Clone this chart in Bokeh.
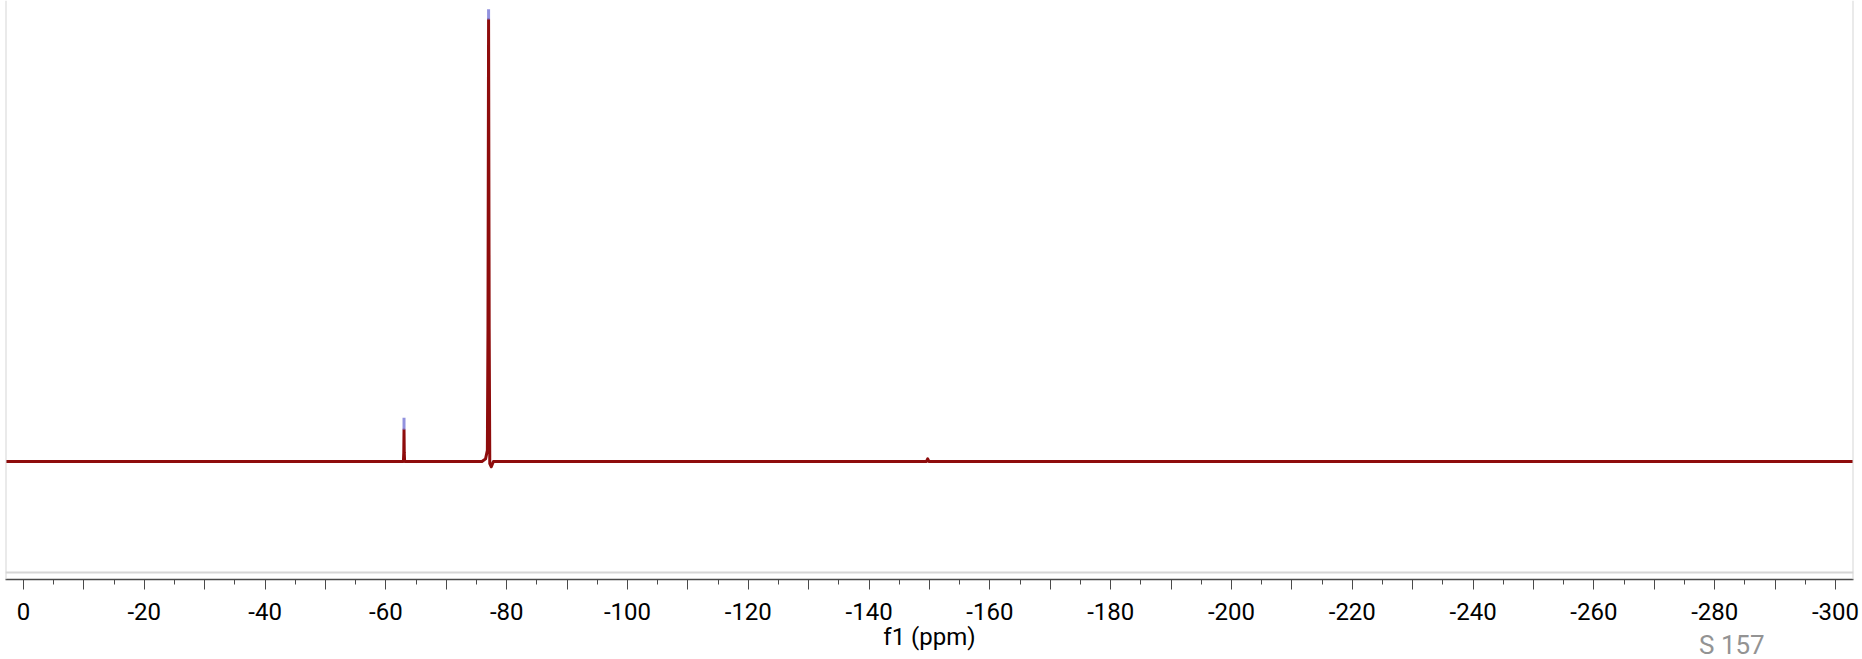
from bokeh.plotting import figure
from bokeh.models import Range1d, FixedTicker, Span, Div
from bokeh.layouts import column
from bokeh.embed import file_html
from bokeh.resources import INLINE

# ---- data ----
# 19F spectrum trace: chemical shift (ppm) and relative intensity
ppm = [2.9, -62.9, -62.96, -63.0, -63.04, -63.1,
       -75.9, -76.5, -76.8, -76.9, -77.0, -77.1, -77.2, -77.45, -77.8,
       -149.5, -149.7, -149.9, -302.9]
intensity = [0, 0, 2.0, 7.2, 2.0, 0,
             0, 0.6, 2.5, 30, 100, 30, -0.5, -1.2, 0,
             0, 0.6, 0, 0]

# peak-pick markers (blue tips)
peak_ppm = [-63.0, -77.0]
peak_bottom = [7.2, 100.0]
peak_top = [9.9, 102.3]

# axis ticks
major_ticks = list(range(0, -301, -10))
minor_ticks = list(range(-5, -301, -10))
tick_labels = {t: (str(t) if t % 20 == 0 else "") for t in major_ticks}

x_label = "f1 (ppm)"
corner_text = "S 157"

FONT = "Roboto"
X0, X1 = 2.98, -302.98
Y0, Y1 = -26.7, 104.3

p = figure(width=1862, height=659, output_backend="svg", toolbar_location=None,
           x_range=Range1d(X0, X1), y_range=Range1d(Y0, Y1),
           min_border_left=5, min_border_right=9, min_border_top=0, min_border_bottom=80,
           background_fill_color="white", border_fill_color="white")
p.outline_line_color = None
p.grid.visible = False
p.yaxis.visible = False

# frame borders (light grey) left / right / bottom
for loc in (X0, X1):
    p.add_layout(Span(location=loc, dimension="height", line_color="#d6d6d6", line_width=2))
p.add_layout(Span(location=-25.1, dimension="width", line_color="#d6d6d6", line_width=2))

# spectrum
p.line(ppm, intensity, line_color="#8e0c0c", line_width=3, line_join="round")
p.segment(x0=peak_ppm, y0=peak_bottom, x1=peak_ppm, y1=peak_top,
          line_color="#7f7fd8", line_width=3, line_alpha=0.85)

ax = p.xaxis[0]
ax.ticker = FixedTicker(ticks=major_ticks, minor_ticks=minor_ticks)
ax.major_label_overrides = tick_labels
ax.axis_line_color = "#4a4a4a"
ax.axis_line_width = 1.5
ax.major_tick_line_color = "#4a4a4a"
ax.minor_tick_line_color = "#4a4a4a"
ax.major_tick_in = 0
ax.major_tick_out = 10
ax.minor_tick_in = 0
ax.minor_tick_out = 5
ax.major_label_standoff = 13
ax.major_label_text_font = FONT
ax.major_label_text_font_size = "24px"
ax.major_label_text_color = "black"
ax.axis_label = x_label
ax.axis_label_text_font = FONT
ax.axis_label_text_font_size = "24px"
ax.axis_label_text_font_style = "normal"
ax.axis_label_text_color = "black"
ax.axis_label_standoff = 0

note = Div(text=corner_text, width=100, height=28,
           styles={"position": "absolute", "left": "1694px", "top": "626px",
                   "color": "#939393", "font-family": "Roboto", "font-size": "26px",
                   "line-height": "28px"})

layout = column(p, note)
open("out.html", "w").write(file_html(layout, INLINE))
